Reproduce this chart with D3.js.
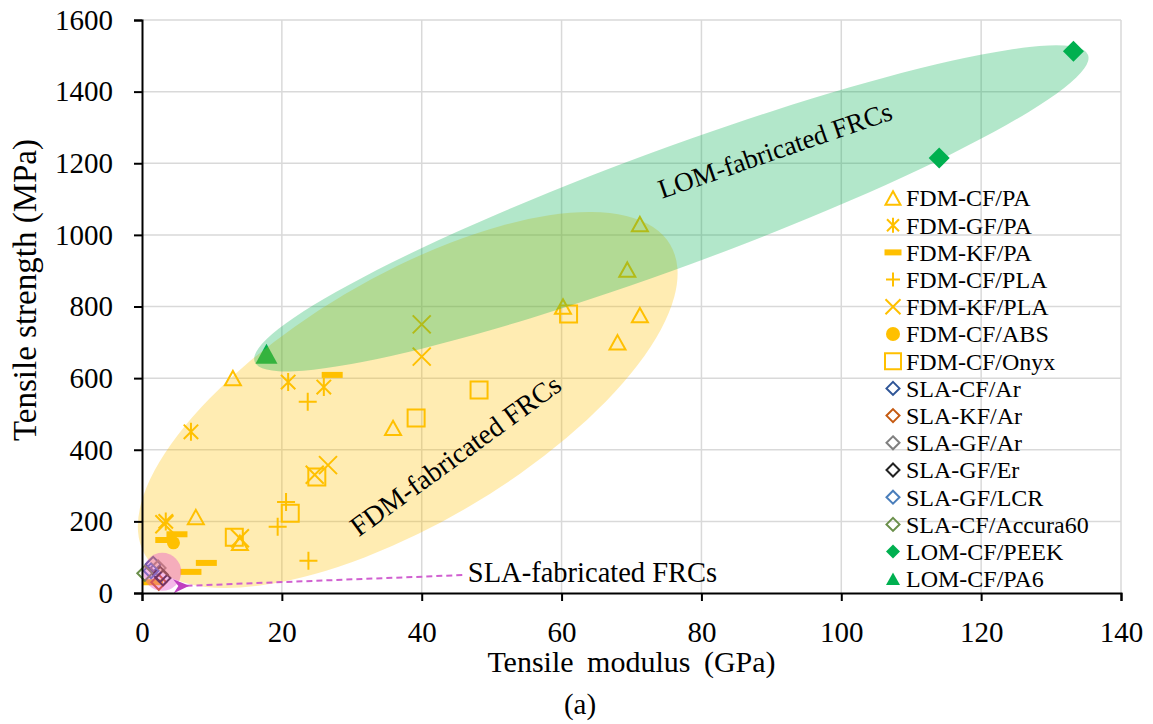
<!DOCTYPE html>
<html>
<head>
<meta charset="utf-8">
<script src="https://cdn.jsdelivr.net/npm/d3@7"></script>
<style>
  body { margin: 0; background: #fff; }
  svg { display: block; font-family: "Liberation Serif", "Times New Roman", serif; }
</style>
</head>
<body>
<div id="chart"></div>
<script>
// ---- data ----
const xTicks = [0, 20, 40, 60, 80, 100, 120, 140];
const yTicks = [0, 200, 400, 600, 800, 1000, 1200, 1400, 1600];

const FDM_CF_PA = [[13, 600], [7.7, 212], [14, 140], [35.9, 461], [60.2, 800], [68, 700], [69.4, 903], [71.2, 1030], [71.2, 776]];
const FDM_GF_PA = [[20.9, 589], [26, 575], [7, 450], [3.4, 200]];
const FDM_KF_PA = [[27.2, 609], [3.4, 148], [5, 164], [9.2, 84], [7, 59], [1.5, 30]];
const FDM_CF_PLA = [[23.7, 534], [20.6, 254], [19.4, 185], [23.8, 90]];
const FDM_KF_PLA = [[40, 750], [40, 660], [26.6, 357], [24.7, 330], [14, 153], [3.2, 192]];
const FDM_CF_ABS = [[4.5, 140]];
const FDM_CF_ONYX = [[61, 779], [48.2, 567], [39.2, 489], [25, 324], [21.2, 223], [13.2, 156]];
const SLA_CF_AR = [[1.6, 80]];
const SLA_KF_AR = [[2.4, 30]];
const SLA_GF_AR = [[2.3, 70]];
const SLA_GF_ER = [[3.0, 42], [2.6, 52]];
const SLA_GF_LCR = [[1.3, 62]];
const SLA_CF_ACCURA60 = [[0.4, 55]];
const LOM_CF_PEEK = [[114, 1215], [133.2, 1513]];
const LOM_CF_PA6 = [[17.8, 668]];

const seriesNames = ["FDM-CF/PA", "FDM-GF/PA", "FDM-KF/PA", "FDM-CF/PLA", "FDM-KF/PLA", "FDM-CF/ABS", "FDM-CF/Onyx",
  "SLA-CF/Ar", "SLA-KF/Ar", "SLA-GF/Ar", "SLA-GF/Er", "SLA-GF/LCR", "SLA-CF/Accura60", "LOM-CF/PEEK", "LOM-CF/PA6"];
const seriesData = [FDM_CF_PA, FDM_GF_PA, FDM_KF_PA, FDM_CF_PLA, FDM_KF_PLA, FDM_CF_ABS, FDM_CF_ONYX,
  SLA_CF_AR, SLA_KF_AR, SLA_GF_AR, SLA_GF_ER, SLA_GF_LCR, SLA_CF_ACCURA60, LOM_CF_PEEK, LOM_CF_PA6];

// ---- styling ----
const orange = "#FFC000";
const green = "#00B050";
const styles = [
  { shape: "tri", color: orange, size: 16, lsize: 15 },
  { shape: "star", color: orange, size: 18, lsize: 15 },
  { shape: "bar", color: orange, size: 21, lsize: 17 },
  { shape: "plus", color: orange, size: 18, lsize: 14 },
  { shape: "x", color: orange, size: 18, lsize: 15 },
  { shape: "dot", color: orange, size: 13, lsize: 14 },
  { shape: "square", color: orange, size: 17, lsize: 16 },
  { shape: "diamond", color: "#2F5597", size: 15, lsize: 13 },
  { shape: "diamond", color: "#C55A11", size: 15, lsize: 13 },
  { shape: "diamond", color: "#808080", size: 15, lsize: 13 },
  { shape: "diamond", color: "#222222", size: 15, lsize: 13 },
  { shape: "diamond", color: "#4A7EBB", size: 15, lsize: 13 },
  { shape: "diamond", color: "#6A8F4A", size: 15, lsize: 13 },
  { shape: "fdiamond", color: green, size: 21, lsize: 14 },
  { shape: "ftri", color: green, size: 22, lsize: 14 }
];

const width = 1153, height = 724;
const margin = { top: 20, right: 32, bottom: 131, left: 142 };

const svg = d3.select("#chart").append("svg")
  .attr("width", width)
  .attr("height", height);

const x = d3.scaleLinear().domain([0, 140]).range([margin.left, width - margin.right]);
const y = d3.scaleLinear().domain([0, 1600]).range([height - margin.bottom, margin.top]);

// marker path around (0,0)
function markerPath(shape, s) {
  const h = s / 2;
  switch (shape) {
    case "tri": case "ftri": {
      const t = s * 0.9;
      return `M0,${-t / 2}L${h},${t / 2}L${-h},${t / 2}Z`;
    }
    case "square": return `M${-h},${-h}H${h}V${h}H${-h}Z`;
    case "diamond": case "fdiamond": return `M0,${-h}L${h},0L0,${h}L${-h},0Z`;
    case "plus": return `M${-h},0H${h}M0,${-h}V${h}`;
    case "x": return `M${-h},${-h}L${h},${h}M${-h},${h}L${h},${-h}`;
    case "star": {
      const d = h * 0.8;
      return `M${-d},${-d}L${d},${d}M${-d},${d}L${d},${-d}M0,${-h}V${h}`;
    }
    case "bar": return `M${-h},-3H${h}V3H${-h}Z`;
    case "dot": return d3.symbol(d3.symbolCircle, Math.PI * h * h)();
  }
}

function drawMarker(g, st, s) {
  const filled = ["bar", "dot", "fdiamond", "ftri"].includes(st.shape);
  g.append("path")
    .attr("d", markerPath(st.shape, s))
    .attr("fill", filled ? st.color : "none")
    .attr("stroke", filled ? "none" : st.color)
    .attr("stroke-width", 2);
}

// gridlines
svg.append("g")
  .selectAll("line.h")
  .data(yTicks.slice(1))
  .join("line")
  .attr("x1", x(0)).attr("x2", x(140))
  .attr("y1", d => y(d)).attr("y2", d => y(d))
  .attr("stroke", "#D9D9D9").attr("stroke-width", 1.5);

svg.append("g")
  .selectAll("line.v")
  .data(xTicks.slice(1))
  .join("line")
  .attr("y1", y(0)).attr("y2", y(1600))
  .attr("x1", d => x(d)).attr("x2", d => x(d))
  .attr("stroke", "#D9D9D9").attr("stroke-width", 1.5);

// points
seriesData.forEach((data, i) => {
  const st = styles[i];
  data.forEach(p => {
    const g = svg.append("g").attr("transform", `translate(${x(p[0])},${y(p[1])})`);
    drawMarker(g, st, st.size);
  });
});

// shaded regions (centre in data units, radii in px, angle in degrees)
const fdmRegion = { cx: 38.0, cy: 539, rx: 305, ry: 123, angle: -30.6 };
const lomRegion = { cx: 75.7, cy: 1074, rx: 444, ry: 59, angle: -20.2 };
const slaRegion = { cx: 2.9, cy: 59, r: 19 };

svg.append("ellipse")
  .attr("transform", `translate(${x(fdmRegion.cx)},${y(fdmRegion.cy)}) rotate(${fdmRegion.angle})`)
  .attr("rx", fdmRegion.rx).attr("ry", fdmRegion.ry)
  .attr("fill", orange).attr("fill-opacity", 0.3);

svg.append("ellipse")
  .attr("transform", `translate(${x(lomRegion.cx)},${y(lomRegion.cy)}) rotate(${lomRegion.angle})`)
  .attr("rx", lomRegion.rx).attr("ry", lomRegion.ry)
  .attr("fill", green).attr("fill-opacity", 0.3);

svg.append("circle")
  .attr("cx", x(slaRegion.cx)).attr("cy", y(slaRegion.cy))
  .attr("r", slaRegion.r)
  .attr("fill", "#E64FC8").attr("fill-opacity", 0.4);

// annotations
svg.append("text")
  .attr("transform", `translate(${x(90.5)},${y(1237)}) rotate(-19)`)
  .attr("text-anchor", "middle").attr("dy", "0.35em")
  .attr("font-size", 27)
  .text("LOM-fabricated FRCs");

svg.append("text")
  .attr("transform", `translate(${x(44.8)},${y(385)}) rotate(-36)`)
  .attr("text-anchor", "middle").attr("dy", "0.35em")
  .attr("font-size", 28)
  .text("FDM-fabricated FRCs");

svg.append("text")
  .attr("x", x(46.6)).attr("y", y(30))
  .attr("font-size", 28.5)
  .text("SLA-fabricated FRCs");

// dashed arrow to the SLA group
const arrowFrom = [45.8, 50], arrowTo = [6.2, 20];
svg.append("defs").append("marker")
  .attr("id", "head")
  .attr("viewBox", "0 0 16 16")
  .attr("refX", 4).attr("refY", 8)
  .attr("markerWidth", 16).attr("markerHeight", 16)
  .attr("markerUnits", "userSpaceOnUse")
  .attr("orient", "auto")
  .append("path")
  .attr("d", "M16,8L0,1L5,8L0,15Z")
  .attr("transform", "rotate(180 8 8)")
  .attr("fill", "#C040C0");

svg.append("line")
  .attr("x1", x(arrowFrom[0])).attr("y1", y(arrowFrom[1]))
  .attr("x2", x(arrowTo[0])).attr("y2", y(arrowTo[1]))
  .attr("stroke", "#D060D0").attr("stroke-width", 2)
  .attr("stroke-dasharray", "6,4")
  .attr("marker-end", "url(#head)");

// legend
const legend = svg.append("g").attr("transform", "translate(893,198)");
seriesNames.forEach((name, i) => {
  const row = legend.append("g").attr("transform", `translate(0,${i * 27.2})`);
  drawMarker(row, styles[i], styles[i].lsize);
  row.append("text")
    .attr("x", 13).attr("dy", "0.35em")
    .attr("font-size", 24)
    .text(name);
});

// axes
const xAxis = svg.append("g")
  .attr("transform", `translate(0,${y(0)})`)
  .call(d3.axisBottom(x).tickValues(xTicks).tickFormat(d3.format("d")).tickSize(8).tickPadding(20));
const yAxis = svg.append("g")
  .attr("transform", `translate(${x(0)},0)`)
  .call(d3.axisLeft(y).tickValues(yTicks).tickFormat(d3.format("d")).tickSize(8).tickPadding(21));

[xAxis, yAxis].forEach(a => {
  a.select(".domain").attr("stroke", "#000").attr("stroke-width", 2);
  a.selectAll(".tick line").attr("stroke", "#000").attr("stroke-width", 2);
  a.selectAll(".tick text")
    .attr("font-family", "Liberation Serif, Times New Roman, serif")
    .attr("font-size", 29).attr("fill", "#000");
});

// titles
svg.append("text")
  .attr("x", (x(0) + x(140)) / 2).attr("y", 672)
  .attr("text-anchor", "middle")
  .attr("font-size", 30)
  .attr("word-spacing", 6)
  .text("Tensile modulus (GPa)");

svg.append("text")
  .attr("transform", "translate(36,290) rotate(-90)")
  .attr("text-anchor", "middle")
  .attr("font-size", 33)
  .text("Tensile strength (MPa)");

svg.append("text")
  .attr("x", 580).attr("y", 714)
  .attr("text-anchor", "middle")
  .attr("font-size", 29)
  .text("(a)");
</script>
</body>
</html>
